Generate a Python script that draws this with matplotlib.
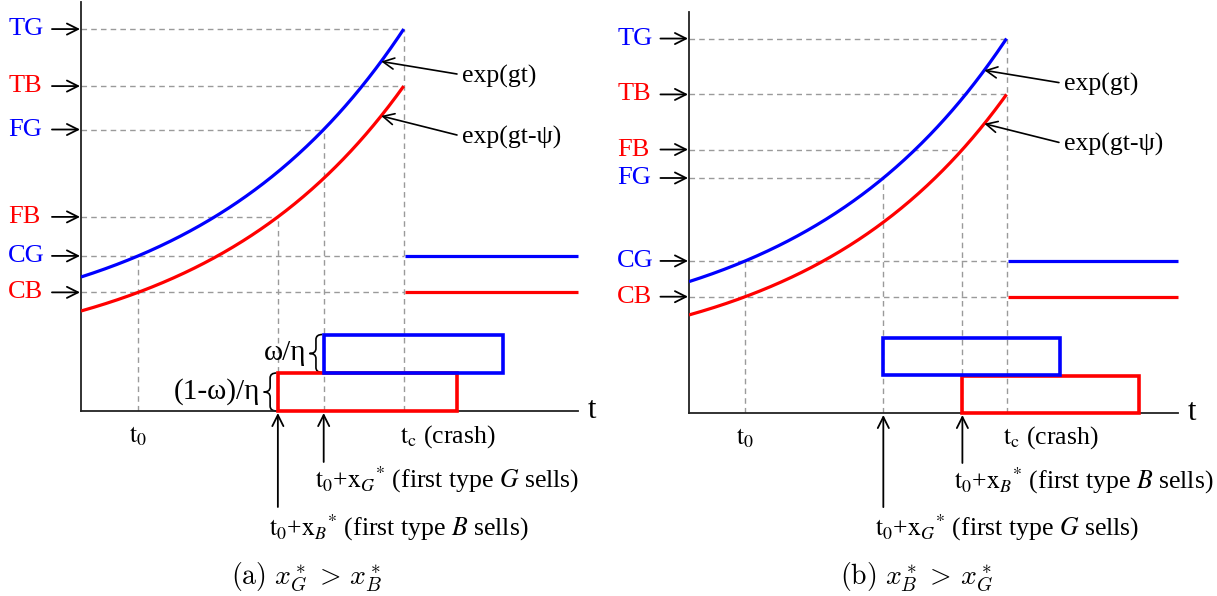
import numpy as np
import matplotlib
matplotlib.use("Agg")
import matplotlib.pyplot as plt
from matplotlib.path import Path
from matplotlib.patches import PathPatch, Rectangle

plt.rcParams['font.family'] = ['Liberation Serif', 'DejaVu Serif']
plt.rcParams['font.size'] = 18.5

W, H = 1217, 596

# time axis: t0 and the crash date tc, end of the drawn axis
t0 = 0.177
tc = 1.0
t_end = 1.54

# waiting times x*_G and x*_B for panel (a) and panel (b)
x_G = [0.575, 0.435]
x_B = [0.433, 0.684]

# selling blocks: width 1/eta, heights omega/eta and (1-omega)/eta
box_width = 0.555
box_height_G = 0.38
box_height_B = 0.38

# price paths exp(gt) (type G) and exp(gt-psi) (type B), drawn as base + scale*exp(g t)
growth = [1.55, 1.6]
curve_base = [0.672, 0.431]
curve_scale = [0.668, 0.569]
colors = ['#0000ff', '#ff0000']
y_top = 4.09

captions = [r'$\mathrm{(a)}\ x^*_G\,>\,x^*_B$', r'$\mathrm{(b)}\ x^*_B\,>\,x^*_G$']

dash = dict(color='#9a9a9a', lw=1.0, dashes=(4, 3), zorder=1)
arrow = dict(arrowstyle='->', color='black', lw=1.3, mutation_scale=20, shrinkA=0, shrinkB=0)


def price(t, k):
    return curve_base[k] + curve_scale[k] * np.exp(growth[k] * t)


def brace(ax, x_right, y0, y1, width=0.04, r=0.05):
    xm = x_right - width / 2
    xt = x_right - width
    ym = (y0 + y1) / 2
    verts = [(x_right, y1), (xm, y1), (xm, y1 - r), (xm, ym + r), (xm, ym), (xt, ym),
             (xm, ym), (xm, ym - r), (xm, y0 + r), (xm, y0), (x_right, y0)]
    codes = [Path.MOVETO, Path.CURVE3, Path.CURVE3, Path.LINETO, Path.CURVE3, Path.CURVE3,
             Path.CURVE3, Path.CURVE3, Path.LINETO, Path.CURVE3, Path.CURVE3]
    ax.add_patch(PathPatch(Path(verts, codes), fill=False, lw=1.2, color='black', clip_on=False))


def sell_label(ax, t_mark, y_tail, y_text, letter):
    ax.annotate('', xy=(t_mark, -0.02), xytext=(t_mark, y_tail), arrowprops=arrow, annotation_clip=False)
    ax.text(t_mark - 0.027, y_text,
            r'$\mathrm{t}_0$+$\mathrm{x}_{%s}{}^{*}$ (first type $%s$ sells)' % (letter, letter),
            ha='left', va='center', math_fontfamily='stix')


def draw_panel(ax, i):
    tG = t0 + x_G[i]
    tB = t0 + x_B[i]
    t = np.linspace(0, tc, 300)

    # levels hit by each path at t0, at the first sale and at the crash
    levels = [('TG', tc, price(tc, 0), tc, 0), ('TB', tc, price(tc, 1), tc, 1),
              ('FG', tG, price(tG, 0), tG, 0), ('FB', tB, price(tB, 1), tB, 1),
              ('CG', t0, price(t0, 0), tc, 0), ('CB', t0, price(t0, 1), tc, 1)]

    for name, t_hit, level, h_end, k in levels:
        ax.plot([0, h_end], [level, level], **dash)
        ax.text(-0.226, level, name, color=colors[k], ha='left', va='center', fontsize=19)
        ax.annotate('', xy=(-0.003, level), xytext=(-0.09, level), arrowprops=arrow,
                    annotation_clip=False)
    for t_v, level in [(t0, price(t0, 0)), (tG, price(tG, 0)), (tB, price(tB, 1)), (tc, price(tc, 0))]:
        ax.plot([t_v, t_v], [0, level], **dash)

    for k in range(2):
        ax.plot(t, price(t, k), color=colors[k], lw=2.3, zorder=3, solid_capstyle='butt')
        ax.plot([tc + 0.004, t_end], [price(t0, k)] * 2, color=colors[k], lw=2.3, zorder=3,
                solid_capstyle='butt', clip_on=False)

    # selling pressure blocks
    ax.add_patch(Rectangle((tB, 0.0), box_width, box_height_B, fill=False, ec=colors[1],
                           lw=2.6, zorder=4, clip_on=False))
    ax.add_patch(Rectangle((tG, box_height_B + 0.005), box_width, box_height_G, fill=False,
                           ec=colors[0], lw=2.6, zorder=4, clip_on=False))

    # curve labels
    for k, (name, y_txt) in enumerate([('exp(gt)', 3.35), ('exp(gt-ψ)', 2.74)]):
        t_head = 0.93
        ax.annotate('', xy=(t_head, price(t_head, k)), xytext=(1.165, y_txt + 0.02),
                    arrowprops=dict(arrow, lw=1.2), annotation_clip=False)
        ax.text(1.18, y_txt, name, ha='left', va='center')

    ax.text(t0, -0.255, r'$\mathrm{t}_0$', ha='center', va='center', math_fontfamily='stix')
    ax.text(tc - 0.01, -0.255, r'$\mathrm{t}_\mathrm{c}$ (crash)', ha='left', va='center',
            math_fontfamily='stix')
    ax.text(t_end + 0.03, 0.0, 't', ha='left', va='center', fontsize=22)

    if tG > tB:
        sell_label(ax, tG, -0.51, -0.69, 'G')
        sell_label(ax, tB, -0.96, -1.17, 'B')
        brace(ax, tG - 0.004, box_height_B + 0.005, box_height_B + 0.005 + box_height_G)
        brace(ax, tB - 0.004, 0.0, box_height_B)
        ax.text(tG - 0.055, box_height_B + 0.2, 'ω/η', ha='right', va='center', fontsize=21)
        ax.text(tB - 0.055, box_height_B / 2, '(1-ω)/η', ha='right', va='center', fontsize=21)
    else:
        sell_label(ax, tB, -0.51, -0.69, 'B')
        sell_label(ax, tG, -0.96, -1.17, 'G')

    ax.set_xlim(0, t_end)
    ax.set_ylim(0, y_top)
    for side in ['top', 'right']:
        ax.spines[side].set_visible(False)
    for side in ['left', 'bottom']:
        ax.spines[side].set_linewidth(1.3)
        ax.spines[side].set_color('#222222')
    ax.set_xticks([])
    ax.set_yticks([])
    ax.patch.set_alpha(0)


fig = plt.figure(figsize=(W / 100, H / 100), dpi=100)
ax_a = fig.add_axes([81 / W, 1 - 411 / H, (578 - 81) / W, (411 - 2) / H])
ax_b = fig.add_axes([689 / W, 1 - 413 / H, (1178 - 689) / W, (413 - 12) / H])

draw_panel(ax_a, 0)
draw_panel(ax_b, 1)

fig.text(307 / W, 1 - 577 / H, captions[0], ha='center', va='center', fontsize=20, math_fontfamily='cm')
fig.text(917 / W, 1 - 577 / H, captions[1], ha='center', va='center', fontsize=20, math_fontfamily='cm')

fig.savefig('out.png', dpi=100)
